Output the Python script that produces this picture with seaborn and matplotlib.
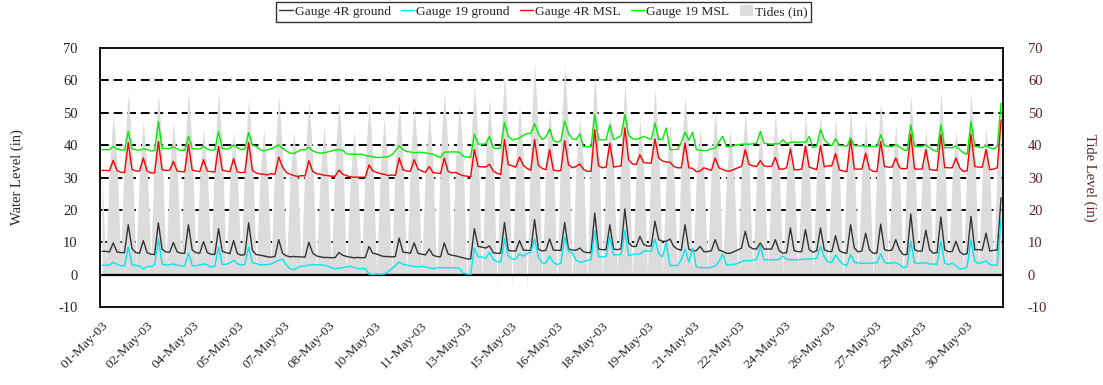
import numpy as np
import pandas as pd
import matplotlib
matplotlib.use("Agg")
import matplotlib.pyplot as plt
import seaborn as sns
from matplotlib.patches import Patch
from matplotlib.lines import Line2D

# Category labels shown along the time axis
date_labels = ["01-May-03", "02-May-03", "04-May-03", "05-May-03", "07-May-03",
               "08-May-03", "10-May-03", "11-May-03", "13-May-03", "15-May-03",
               "16-May-03", "18-May-03", "19-May-03", "21-May-03", "22-May-03",
               "24-May-03", "26-May-03", "27-May-03", "29-May-03", "30-May-03"]

# Water levels (in), one reading per time step
gauge_4r_ground = [
    7.2,
    7.2, 7.0, 9.8, 7.0,   6.8, 6.8, 15.4, 8.0,   6.8, 6.6, 10.5, 6.8,   6.3, 6.2, 16.0, 7.8,
    7.0, 6.9, 9.9, 7.0,   6.6, 6.6, 15.4, 7.6,   6.8, 6.6, 10.2, 6.8,   6.3, 6.2, 14.2, 7.2,
    6.8, 6.5, 10.5, 6.5,  6.0, 6.2, 16.0, 7.5,   6.2, 6.0, 5.8, 5.5,    5.4, 5.6, 10.8, 6.6,
    5.8, 5.5, 5.6, 5.5,   5.5, 5.4, 10.0, 6.7,   5.8, 5.5, 5.3, 5.3,    5.2, 5.3, 6.8, 6.0,
    5.6, 5.4, 5.2, 5.3,   5.2, 5.3, 8.7, 6.6,    6.4, 5.9, 5.6, 5.6,    5.5, 5.6, 11.3, 7.0,
    6.8, 6.6, 9.8, 6.6,   6.3, 6.1, 7.9, 6.0,    5.6, 5.5, 9.8, 6.4,    6.0, 5.8, 5.5, 5.2,
    4.9, 4.8, 14.2, 8.7,  8.5, 8.2, 8.9, 6.8,    6.6, 6.6, 16.1, 7.5,   7.3, 7.3, 10.5, 7.6,
    7.5, 7.5, 17.0, 7.9,  7.3, 7.5, 11.0, 7.6,   7.5, 7.5, 16.1, 7.9,   7.6, 7.5, 8.2, 7.1,
    6.8, 6.8, 19.0, 7.9,  7.7, 7.7, 15.4, 7.9,   7.7, 8.0, 20.3, 9.8,   8.7, 8.7, 11.8, 9.3,
    8.8, 8.8, 16.5, 10.8, 10.3, 10.3, 11.0, 8.7, 7.9, 7.5, 15.4, 7.9,   7.3, 7.4, 8.7, 7.1,
    7.1, 7.4, 10.8, 7.6,  7.2, 6.6, 6.6, 7.1,    7.6, 8.2, 13.4, 8.7,   8.0, 7.9, 9.8, 7.9,
    7.9, 7.9, 10.8, 7.4,  6.6, 6.8, 14.4, 7.4,   7.1, 7.1, 13.9, 7.7,   6.9, 7.4, 14.4, 7.7,
    7.2, 7.1, 12.0, 7.4,  6.8, 6.6, 15.4, 8.2,   7.0, 7.3, 12.8, 7.7,   6.6, 6.6, 15.6, 7.7,
    7.4, 7.6, 10.8, 7.6,  6.2, 6.2, 18.7, 7.7,   7.2, 7.3, 13.7, 7.7,   6.6, 6.8, 17.8, 7.7,
    7.1, 7.1, 10.3, 7.1,  6.2, 6.5, 18.0, 7.7,   7.7, 7.6, 12.8, 7.3,
    7.5, 7.6, 23.7,
]

gauge_19_ground = [
    2.9,
    2.9, 2.9, 3.8, 3.2,   2.7, 2.7, 8.5, 3.0,    2.9, 2.6, 1.8, 2.5,    2.5, 3.0, 11.1, 3.2,
    3.0, 3.0, 3.3, 2.9,   2.7, 2.7, 6.7, 2.8,    2.7, 3.0, 3.3, 3.0,    2.3, 2.6, 8.5, 3.1,
    3.2, 3.6, 4.4, 3.4,   2.9, 3.2, 8.5, 3.6,    3.4, 3.0, 3.0, 3.1,    3.3, 3.8, 4.4, 4.8,
    3.0, 1.8, 1.5, 2.2,   2.6, 2.6, 3.0, 3.0,    3.0, 3.1, 2.9, 2.6,    2.2, 1.8, 2.0, 2.1,
    2.4, 2.6, 2.2, 1.8,   1.9, 1.8, 0.2, 0.0,    0.2, 0.1, 0.2, 0.8,    1.8, 2.8, 3.9, 3.2,
    3.0, 2.7, 2.5, 2.4,   2.6, 2.4, 2.1, 1.8,    2.1, 2.2, 2.1, 2.1,    2.1, 2.1, 2.0, 0.5,
    0.2, 0.1, 8.2, 5.5,   5.5, 5.0, 6.8, 4.8,    4.0, 3.9, 11.1, 5.8,   4.8, 4.8, 6.4, 5.7,
    6.5, 7.0, 11.0, 5.5,  3.6, 3.6, 5.7, 3.8,    3.1, 3.5, 11.6, 7.2,   6.7, 4.5, 3.8, 4.0,
    4.4, 4.6, 13.4, 5.5,  5.5, 5.5, 11.8, 6.1,   6.1, 6.3, 13.6, 5.8,   6.2, 6.4, 6.4, 7.2,
    7.4, 7.2, 11.0, 6.4,  5.5, 9.9, 2.8, 2.8,    2.8, 4.6, 7.8, 3.9,    8.2, 2.4, 2.2, 2.1,
    2.1, 2.3, 2.6, 4.0,   6.4, 3.0, 3.0, 3.2,    3.4, 4.0, 4.4, 4.2,    4.5, 4.6, 8.7, 4.6,
    4.6, 4.6, 4.6, 4.7,   5.8, 4.7, 4.6, 4.6,    4.6, 4.7, 4.8, 4.8,    4.9, 5.0, 8.7, 5.5,
    3.8, 3.8, 6.1, 4.4,   3.2, 2.8, 6.3, 3.8,    3.6, 3.5, 3.5, 3.6,    3.6, 3.7, 6.4, 3.8,
    3.5, 3.6, 3.7, 3.1,   2.1, 2.5, 10.3, 3.6,   3.5, 3.6, 3.6, 3.3,    3.2, 3.3, 10.3, 3.6,
    3.1, 3.5, 2.8, 1.8,   1.8, 2.5, 10.8, 4.1,   3.5, 3.8, 4.3, 3.1,
    2.9, 3.0, 17.0,
]

gauge_4r_msl = [
    32.2,
    32.2, 32.1, 35.3, 32.2,  31.6, 31.5, 40.8, 32.5,  32.0, 32.0, 36.0, 32.0,  31.4, 31.4, 41.1, 32.4,
    32.2, 32.2, 35.0, 32.0,  31.8, 31.8, 40.3, 32.3,  32.0, 31.8, 35.5, 32.0,  31.8, 31.7, 39.6, 32.2,
    32.0, 31.8, 35.8, 31.7,  31.5, 31.6, 40.8, 32.2,  31.4, 31.1, 31.0, 30.8,  31.2, 31.0, 36.3, 33.2,
    31.6, 31.0, 30.6, 30.3,  30.6, 30.5, 35.2, 31.9,  31.2, 31.0, 30.7, 30.6,  30.4, 30.4, 32.3, 31.0,
    30.6, 30.2, 30.1, 30.1,  30.1, 30.1, 33.9, 32.0,  31.6, 31.2, 31.0, 30.6,  30.8, 30.6, 36.0, 32.4,
    32.0, 31.9, 35.5, 32.6,  32.0, 31.6, 33.4, 31.5,  31.4, 31.2, 36.0, 31.9,  31.4, 31.6, 31.0, 30.6,
    30.4, 30.2, 38.6, 33.4,  33.3, 33.2, 34.1, 32.0,  31.3, 30.9, 41.7, 34.0,  33.6, 33.2, 36.3, 33.8,
    32.8, 32.2, 41.7, 33.8,  32.8, 32.4, 38.6, 32.3,  32.0, 32.2, 41.4, 34.0,  33.0, 33.4, 34.2, 32.5,
    31.9, 31.9, 44.8, 33.6,  33.0, 33.2, 40.6, 33.2,  33.4, 33.6, 45.3, 35.5,  34.2, 34.0, 37.0, 34.6,
    34.5, 34.4, 41.9, 36.0,  35.1, 34.8, 34.7, 33.4,  33.0, 33.0, 40.6, 33.0,  32.8, 31.8, 32.0, 33.0,
    32.6, 32.2, 36.0, 33.0,  32.5, 32.0, 32.0, 32.5,  33.0, 33.4, 38.6, 34.0,  33.6, 33.4, 35.2, 33.6,
    33.4, 33.5, 36.2, 32.6,  32.6, 33.0, 38.8, 32.4,  32.4, 32.6, 39.6, 33.2,  32.8, 32.4, 39.8, 33.3,
    33.6, 33.6, 37.4, 32.4,  32.0, 31.8, 41.9, 32.6,  32.6, 32.6, 37.5, 32.6,  31.9, 31.8, 41.1, 33.4,
    33.2, 33.2, 36.0, 33.0,  32.7, 32.8, 43.4, 32.6,  32.6, 32.6, 38.6, 32.5,  32.3, 32.2, 43.2, 33.1,
    33.0, 33.0, 36.0, 33.0,  31.8, 32.2, 43.4, 33.4,  33.2, 33.2, 38.6, 32.4,
    32.6, 33.0, 47.8,
]

gauge_19_msl = [
    38.6,
    38.6, 38.6, 39.6, 38.8,  38.5, 38.5, 44.2, 38.8,  38.6, 38.4, 38.9, 38.6,  38.2, 38.4, 47.3, 39.0,
    39.0, 38.9, 39.5, 38.8,  38.4, 38.4, 42.7, 38.9,  38.8, 38.8, 39.6, 38.8,  38.4, 38.6, 44.2, 38.9,
    38.8, 39.0, 40.1, 39.2,  38.6, 38.8, 43.9, 40.0,  39.6, 38.6, 38.2, 38.6,  38.8, 39.4, 40.1, 39.0,
    38.2, 37.5, 37.4, 38.0,  38.6, 38.6, 39.4, 38.2,  37.8, 37.5, 37.6, 37.9,  38.2, 38.5, 38.6, 38.4,
    37.3, 37.2, 37.2, 37.2,  37.2, 36.8, 36.6, 36.4,  36.2, 36.2, 36.3, 36.4,  37.0, 38.2, 39.8, 38.6,
    38.0, 37.9, 37.6, 37.8,  37.8, 37.6, 37.4, 37.2,  36.6, 36.2, 37.8, 37.9,  37.9, 37.9, 37.8, 36.6,
    36.3, 36.2, 43.4, 40.3,  40.3, 40.4, 42.7, 39.2,  38.9, 39.2, 47.0, 42.7,  41.7, 41.8, 42.2, 43.0,
    43.6, 43.6, 46.6, 43.6,  41.7, 42.5, 45.0, 41.4,  40.9, 41.4, 47.4, 43.6,  42.0, 41.7, 43.5, 39.5,
    39.5, 39.6, 49.4, 41.7,  41.6, 41.7, 46.3, 41.7,  42.2, 43.0, 49.4, 43.0,  42.0, 41.7, 42.2, 42.7,
    42.2, 41.7, 46.8, 41.7,  41.8, 45.3, 38.6, 38.6,  38.7, 40.9, 44.0, 41.5,  44.0, 38.6, 38.4, 38.3,
    38.4, 38.9, 39.0, 41.0,  42.7, 39.5, 39.5, 39.8,  40.1, 40.3, 40.3, 40.3,  40.4, 40.6, 44.2, 40.6,
    40.4, 40.3, 40.4, 40.4,  41.7, 40.5, 40.8, 41.0,  40.8, 41.0, 40.8, 42.7,  39.2, 39.6, 44.8, 41.7,
    40.5, 39.8, 42.0, 39.9,  39.8, 39.6, 42.3, 39.8,  39.8, 39.8, 39.6, 39.6,  39.6, 39.6, 43.2, 39.8,
    39.6, 39.5, 40.1, 39.4,  38.6, 38.3, 46.3, 39.6,  39.6, 39.6, 40.1, 39.2,  38.4, 38.0, 46.3, 39.2,
    39.2, 39.2, 39.8, 38.6,  37.6, 37.2, 47.3, 39.6,  39.4, 39.2, 39.8, 39.2,
    38.8, 39.6, 53.0,
]

# Tide level (in) at the same time steps
tide_levels = [
    31.0,
    4.0, 33.0, 49.4, 35.0,   5.0, 38.0, 56.6, 39.0,   3.0, 32.0, 47.8, 33.5,   5.0, 38.0, 56.1, 38.5,
    3.0, 32.0, 47.3, 33.0,   5.0, 38.5, 56.6, 39.0,   3.0, 30.5, 45.3, 31.5,   4.0, 38.0, 56.6, 39.0,
    2.0, 29.5, 44.2, 30.5,   4.0, 36.5, 54.5, 37.5,   2.0, 30.0, 44.8, 31.0,   4.0, 37.5, 55.6, 38.0,
    2.0, 29.5, 44.2, 30.5,   3.0, 36.0, 53.5, 37.0,   1.0, 30.5, 45.8, 31.5,   3.0, 36.5, 54.0, 37.0,
    1.0, 29.5, 44.5, 31.0,   2.5, 35.5, 53.0, 36.5,   1.0, 32.5, 48.4, 33.5,   2.0, 36.0, 53.5, 36.5,
    0.5, 35.0, 52.5, 36.0,   1.5, 34.0, 50.4, 34.5,  -1.5, 38.0, 56.6, 39.0,   0.5, 35.5, 53.0, 36.5,
    -2.6, 39.5, 59.2, 41.0, -1.5, 36.5, 54.5, 37.5,  -3.7, 41.5, 62.2, 43.0,  -3.7, 35.0, 52.5, 36.5,
    -4.7, 43.5, 65.3, 45.0, -1.5, 35.0, 51.9, 36.0,  -2.6, 43.5, 64.8, 44.5,  -3.0, 33.0, 49.4, 34.0,
    -2.0, 41.5, 62.2, 43.0, -0.5, 33.0, 49.4, 34.0,   0.5, 39.5, 59.2, 41.0,  -0.5, 32.5, 48.4, 33.5,
    1.0, 38.5, 57.6, 39.5,   0.5, 31.0, 46.6, 32.0,   1.5, 37.0, 55.2, 38.0,   1.0, 30.5, 45.5, 31.5,
    2.0, 34.0, 50.9, 35.0,   1.5, 30.0, 45.0, 31.0,   2.0, 34.0, 50.4, 34.5,   1.0, 31.0, 46.0, 31.5,
    2.0, 33.0, 49.4, 34.0,   1.0, 31.0, 46.0, 31.5,   1.5, 33.0, 49.4, 34.0,   0.5, 33.5, 50.0, 34.5,
    1.0, 32.5, 48.4, 33.5,  -0.8, 34.5, 51.4, 35.5,   1.0, 32.0, 47.8, 33.0,  -0.8, 36.0, 54.0, 37.5,
    1.5, 31.0, 46.3, 32.0,  -0.8, 37.0, 55.6, 38.5,   2.0, 30.5, 45.3, 31.5,   1.0, 38.0, 56.6, 39.0,
    2.5, 30.0, 44.8, 31.0,   1.0, 38.0, 56.6, 39.0,   2.5, 30.5, 45.3, 31.5,
    2.0, 35.5, 53.0,
]

series_names = ["Gauge 4R ground", "Gauge 19 ground", "Gauge 4R MSL", "Gauge 19 MSL"]
series_colors = ["#333333", "#00e8f0", "#ff0000", "#00ee00"]
tide_color = "#dcdcdc"
axis_red = "#5e2222"

sns.set_theme(style="white")
plt.rcParams["font.family"] = ["Liberation Serif", "DejaVu Serif"]
plt.rcParams["axes.unicode_minus"] = False

steps = np.arange(len(gauge_4r_ground))
wide = pd.DataFrame({"step": steps,
                     series_names[0]: gauge_4r_ground,
                     series_names[1]: gauge_19_ground,
                     series_names[2]: gauge_4r_msl,
                     series_names[3]: gauge_19_msl,
                     "tide": tide_levels})
long = wide.drop(columns="tide").melt(id_vars="step", var_name="series",
                                      value_name="level")

fig = plt.figure(figsize=(11.03, 3.85), dpi=100)
ax = fig.add_axes([0.0907, 0.2026, 0.8186, 0.6727])

# dashed horizontal grid, behind the tide area
for level in range(10, 70, 10):
    ax.axhline(level, color="black", lw=1.4, ls=(0, (4.5, 2.5)), zorder=0.5)

# tide area chart
ax.fill_between(wide["step"], 0, wide["tide"], color=tide_color, lw=0, zorder=1)

ax.axhline(0, color="black", lw=1.6, zorder=2)

sns.lineplot(data=long, x="step", y="level", hue="series", hue_order=series_names,
             palette=dict(zip(series_names, series_colors)), ax=ax, lw=1.0,
             legend=False, sort=False, zorder=3)

ax.set_xlim(-0.5, len(steps) - 0.5)
ax.set_ylim(-10, 70)
ax.set_yticks(range(-10, 71, 10))
ax.set_xticks(np.arange(len(date_labels)) * 12.1)
ax.set_xticklabels(date_labels, rotation=45, ha="right", va="top",
                   rotation_mode="anchor", fontsize=9.7)
ax.tick_params(axis="x", length=0, pad=9)
ax.tick_params(axis="y", length=0, pad=16, labelsize=10.5)
ax.set_xlabel("")
ax.set_ylabel("")
for side in ["left", "right", "top", "bottom"]:
    ax.spines[side].set_color("black")
    ax.spines[side].set_linewidth(1.3)
    ax.spines[side].set_visible(True)

ax2 = ax.twinx()
ax2.set_ylim(-10, 70)
ax2.set_yticks(range(-10, 71, 10))
ax2.tick_params(axis="y", length=0, pad=18, labelsize=10.5, labelcolor=axis_red)
for side in ["left", "right", "top", "bottom"]:
    ax2.spines[side].set_visible(False)

fig.text(17 / 1103, 0.539, "Water Level (in)", rotation=90, ha="center",
         va="center", fontsize=10.5)
fig.text(1090 / 1103, 0.539, "Tide Level (in)", rotation=270, ha="center",
         va="center", fontsize=10.5, color=axis_red)

handles = [Line2D([0], [0], color=c, lw=1.0) for c in series_colors]
handles.append(Patch(facecolor=tide_color, edgecolor="none"))
labels = series_names + ["Tides (in)"]
leg = fig.legend(handles, labels, loc="upper center", bbox_to_anchor=(0.4927, 1.006),
                 ncol=5, frameon=True, fancybox=False, edgecolor="black",
                 fontsize=9.7, handlelength=1.0, handleheight=0.9, handletextpad=0.15,
                 columnspacing=0.75, borderpad=0.25, borderaxespad=0.3)
leg.get_frame().set_linewidth(1.0)

fig.savefig("out.png", dpi=100)
